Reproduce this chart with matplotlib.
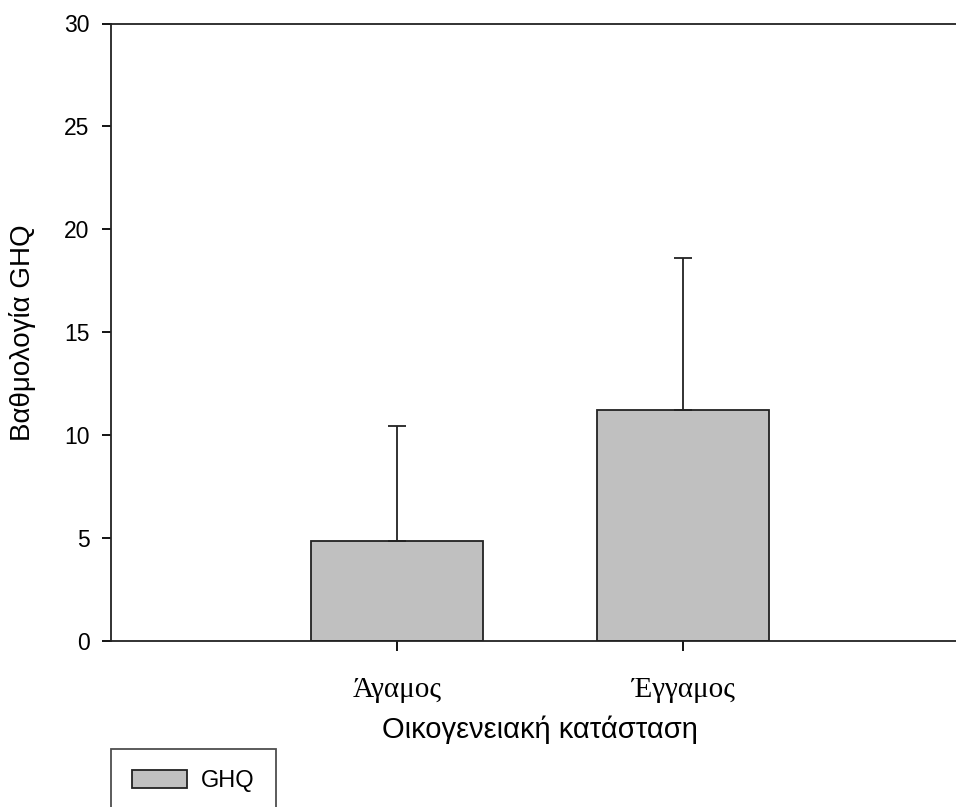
import matplotlib.pyplot as plt
import numpy as np

categories = ['Άγαμος', 'Έγγαμος']
means = [4.86, 11.22]
sd = [5.59, 7.39]
series_name = 'GHQ'

fig = plt.figure(figsize=(9.56, 8.07), dpi=100)
ax = fig.add_axes([111/956, 166/807, 858/956, 617.5/807])

x = np.arange(len(categories))
ax.bar(x, means, width=0.6, color='#c0c0c0', edgecolor='#222222', linewidth=1.3,
       label=series_name, zorder=2)
ax.errorbar(x, means, yerr=[np.zeros(len(sd)), sd], fmt='none', ecolor='#222222',
            elinewidth=1.3, capsize=6.8, capthick=1.3, zorder=3)

ax.set_xlim(-1, 2)
ax.set_ylim(0, 30)
ax.set_yticks([0, 5, 10, 15, 20, 25, 30])
ax.set_xticks(x)
ax.set_xticklabels(categories, fontfamily='Liberation Serif', fontsize=21)
for lab in ax.get_yticklabels():
    lab.set_fontfamily('Liberation Sans')
    lab.set_fontsize(16.5)

for s in ax.spines.values():
    s.set_linewidth(1.3)
    s.set_color('#222222')
ax.tick_params(axis='y', direction='out', length=6.5, width=1.3, pad=9)
ax.tick_params(axis='x', direction='out', length=7, width=1.3, pad=19)

ax.set_xlabel('Οικογενειακή κατάσταση', fontfamily='Liberation Sans', fontsize=21, labelpad=9)
ax.set_ylabel('Βαθμολογία GHQ', fontfamily='Liberation Sans', fontsize=20, labelpad=20)

leg = fig.legend(loc='upper left', bbox_to_anchor=(111/956, 1 - 749/807),
                 frameon=True, fancybox=False, edgecolor='#222222', borderpad=0.9,
                 handlelength=2.3, handleheight=0.8, handletextpad=0.6, borderaxespad=0,
                 prop={'family': 'Liberation Sans', 'size': 17})
leg.get_frame().set_linewidth(1.3)

fig.savefig('out.png', dpi=100)
